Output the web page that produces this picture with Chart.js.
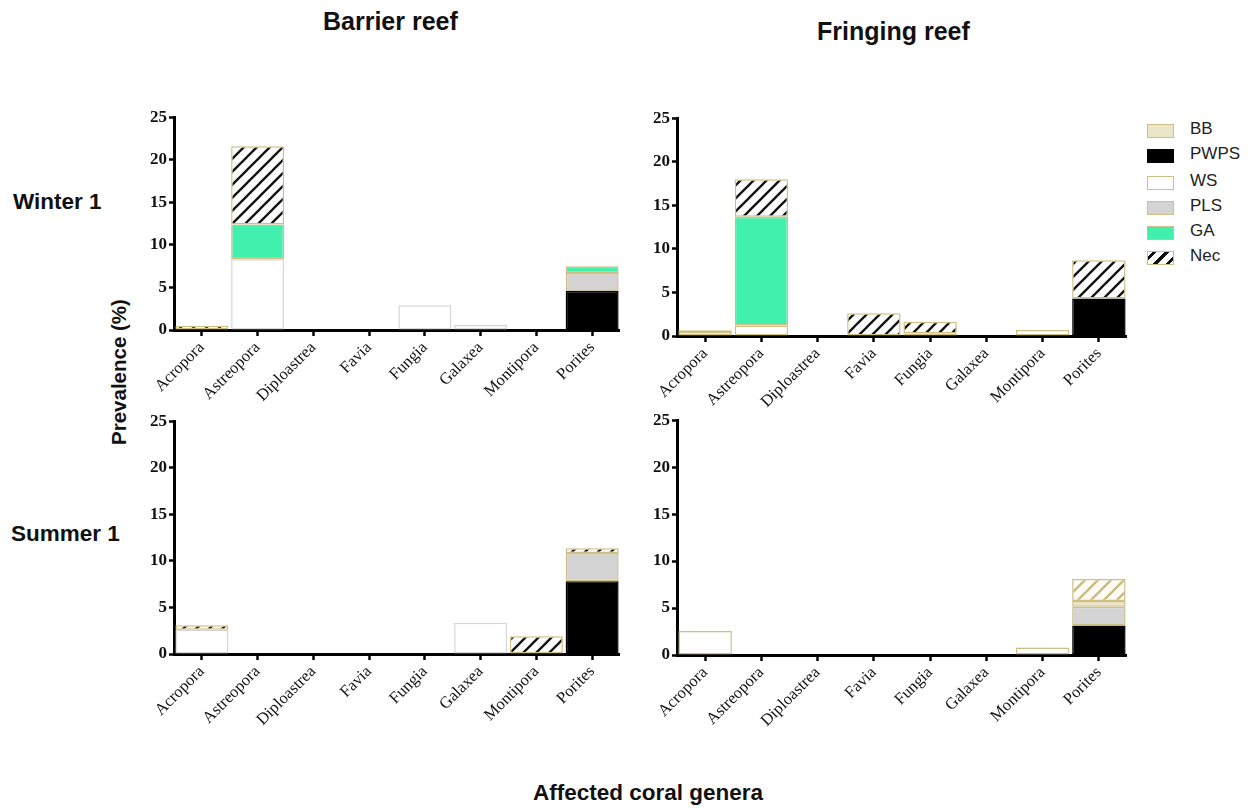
<!DOCTYPE html>
<html>
<head>
<meta charset="utf-8">
<script src="https://cdn.jsdelivr.net/npm/chart.js@4/dist/chart.umd.min.js"></script>
<style>
  body { margin: 0; background: #fff; width: 1260px; height: 808px; position: relative; overflow: hidden; font-family: "Liberation Sans", Arial, sans-serif; }
  canvas { position: absolute; }
  .lbl { position: absolute; font-weight: bold; color: #111; white-space: nowrap; }
  .leg { position: absolute; left: 1147px; font-size: 17px; color: #222; }
  .leg span.box { position: absolute; left: 0; top: 3px; width: 25px; height: 12px; border: 1px solid #cdbf86; }
  .leg span.txt { position: absolute; left: 43px; top: -2px; }
</style>
</head>
<body>

<div class="lbl" style="left:323px;top:7px;font-size:25px">Barrier reef</div>
<div class="lbl" style="left:817px;top:17px;font-size:25px">Fringing reef</div>
<div class="lbl" style="left:13px;top:189px;font-size:22.5px">Winter 1</div>
<div class="lbl" style="left:11px;top:521px;font-size:22.5px">Summer 1</div>
<div class="lbl" style="left:46px;top:360px;font-size:20.5px;transform:rotate(-90deg);transform-origin:center">Prevalence (%)</div>
<div class="lbl" style="left:533px;top:780px;font-size:22.5px">Affected coral genera</div>

<canvas id="bw" width="490" height="305" style="left:130px;top:105px"></canvas>
<canvas id="fw" width="494" height="310" style="left:633px;top:106px"></canvas>
<canvas id="bs" width="490" height="325" style="left:130px;top:409px"></canvas>
<canvas id="fs" width="494" height="327" style="left:633px;top:408px"></canvas>

<div id="legend"></div>

<script>
const genera = ['Acropora', 'Astreopora', 'Diploastrea', 'Favia', 'Fungia', 'Galaxea', 'Montipora', 'Porites'];
const legendOrder = ['BB', 'PWPS', 'WS', 'PLS', 'GA', 'Nec'];
const stackOrder = ['PWPS', 'WS', 'PLS', 'BB', 'GA', 'Nec'];
const yMax = 25;
const yStep = 5;

// Barrier reef - Winter 1
const bwBB   = [0, 0, 0, 0, 0, 0, 0, 0];
const bwPWPS = [0, 0, 0, 0, 0, 0, 0, 4.6];
const bwWS   = [0, 8.3, 0, 0, 2.9, 0.6, 0, 0];
const bwPLS  = [0, 0, 0, 0, 0, 0, 0, 2.1];
const bwGA   = [0, 4.1, 0, 0, 0, 0, 0, 0.8];
const bwNec  = [0.5, 9.2, 0, 0, 0, 0, 0, 0];

// Fringing reef - Winter 1
const fwBB   = [0, 0, 0, 0, 0, 0, 0, 0];
const fwPWPS = [0, 0, 0, 0, 0, 0, 0, 4.3];
const fwWS   = [0.45, 1.2, 0, 0, 0.3, 0, 0.7, 0];
const fwPLS  = [0, 0, 0, 0, 0, 0, 0, 0];
const fwGA   = [0.2, 12.5, 0, 0, 0, 0, 0, 0];
const fwNec  = [0, 4.3, 0, 2.6, 1.35, 0, 0, 4.4];

// Barrier reef - Summer 1
const bsBB   = [0, 0, 0, 0, 0, 0, 0, 0];
const bsPWPS = [0, 0, 0, 0, 0, 0, 0, 7.8];
const bsWS   = [2.6, 0, 0, 0, 0, 3.35, 0, 0];
const bsPLS  = [0, 0, 0, 0, 0, 0, 0, 3.05];
const bsGA   = [0, 0, 0, 0, 0, 0, 0, 0];
const bsNec  = [0.5, 0, 0, 0, 0, 0, 1.9, 0.5];

// Fringing reef - Summer 1
const fsBB   = [0, 0, 0, 0, 0, 0, 0, 0.6];
const fsPWPS = [0, 0, 0, 0, 0, 0, 0, 3.15];
const fsWS   = [2.55, 0, 0, 0, 0, 0, 0.8, 0];
const fsPLS  = [0, 0, 0, 0, 0, 0, 0, 2.0];
const fsGA   = [0, 0, 0, 0, 0, 0, 0, 0];
const fsNec  = [0, 0, 0, 0, 0, 0, 0, 2.35];

const beige = '#cdbf86';

function hatch(lineColor, bg) {
  const s = 13;
  const c = document.createElement('canvas');
  c.width = s; c.height = s;
  const g = c.getContext('2d');
  g.fillStyle = bg;
  g.fillRect(0, 0, s, s);
  g.strokeStyle = lineColor;
  g.lineWidth = 2.3;
  g.beginPath();
  g.moveTo(0, s); g.lineTo(s, 0);
  g.moveTo(-2, 2); g.lineTo(2, -2);
  g.moveTo(s - 2, s + 2); g.lineTo(s + 2, s - 2);
  g.stroke();
  return g.createPattern(c, 'repeat');
}

const blackHatch = hatch('#111', '#fff');
const beigeHatch = hatch('#c9bb80', '#fdfbf4');

function fills(wsBorder, necFill) {
  return {
    BB: ['#ece6c9', beige],
    PWPS: ['#000000', '#000000'],
    WS: ['#ffffff', wsBorder],
    PLS: ['#d4d4d4', beige],
    GA: ['#42f0ae', beige],
    Nec: [necFill, beige]
  };
}

function datasets(series, style) {
  return stackOrder.map(name => ({
    label: name,
    data: series[name].map(v => v === 0 ? null : v),
    backgroundColor: style[name][0],
    borderColor: style[name][1],
    borderWidth: 1.5,
    borderSkipped: false,
    stack: 's'
  }));
}

function draw(id, series, style) {
  new Chart(document.getElementById(id), {
    type: 'bar',
    data: { labels: genera, datasets: datasets(series, style) },
    options: {
      responsive: false,
      animation: false,
      categoryPercentage: 0.95,
      barPercentage: 1,
      layout: { padding: { top: 8, left: 0, right: 0, bottom: 0 } },
      plugins: { legend: { display: false }, tooltip: { enabled: false } },
      scales: {
        x: {
          stacked: true,
          offset: true,
          grid: { offset: false, drawOnChartArea: false, drawTicks: true, tickLength: 6, tickWidth: 2.5, tickColor: '#000' },
          border: { display: true, color: '#000', width: 3 },
          ticks: { color: '#111', minRotation: 45, maxRotation: 45, padding: 2, autoSkip: false,
                   font: { family: '"Liberation Serif", "Times New Roman", serif', size: 16.5 } },
          afterFit: s => { s.height = 80; s.paddingLeft = 0; s.paddingRight = 0; }
        },
        y: {
          stacked: true,
          min: 0,
          max: yMax,
          grid: { drawOnChartArea: false, drawTicks: true, tickLength: 5, tickWidth: 2.5, tickColor: '#000' },
          border: { display: true, color: '#000', width: 3 },
          ticks: { stepSize: yStep, color: '#111', padding: 2,
                   font: { family: '"Liberation Serif", "Times New Roman", serif', size: 17, weight: 'bold' } },
          afterFit: s => { s.width = 44; }
        }
      }
    }
  });
}

draw('bw', { BB: bwBB, PWPS: bwPWPS, WS: bwWS, PLS: bwPLS, GA: bwGA, Nec: bwNec }, fills('#d6d6d6', blackHatch));
draw('fw', { BB: fwBB, PWPS: fwPWPS, WS: fwWS, PLS: fwPLS, GA: fwGA, Nec: fwNec }, fills(beige, blackHatch));
draw('bs', { BB: bsBB, PWPS: bsPWPS, WS: bsWS, PLS: bsPLS, GA: bsGA, Nec: bsNec }, fills('#d6d6d6', blackHatch));
draw('fs', { BB: fsBB, PWPS: fsPWPS, WS: fsWS, PLS: fsPLS, GA: fsGA, Nec: fsNec }, fills(beige, beigeHatch));

// legend
const swatch = {
  BB: 'background:#ece6c9',
  PWPS: 'background:#000;border-color:#000',
  WS: 'background:#fff',
  PLS: 'background:#d4d4d4',
  GA: 'background:#42f0ae',
  Nec: 'background:repeating-linear-gradient(135deg,#fff 0 3px,#111 3px 6px,#fff 6px 9px)'
};
const legendTop = [121, 146, 173, 198, 223, 248];
const leg = document.getElementById('legend');
legendOrder.forEach((name, i) => {
  const d = document.createElement('div');
  d.className = 'leg';
  d.style.top = legendTop[i] + 'px';
  d.innerHTML = '<span class="box" style="' + swatch[name] + '"></span><span class="txt">' + name + '</span>';
  leg.appendChild(d);
});
</script>
</body>
</html>
